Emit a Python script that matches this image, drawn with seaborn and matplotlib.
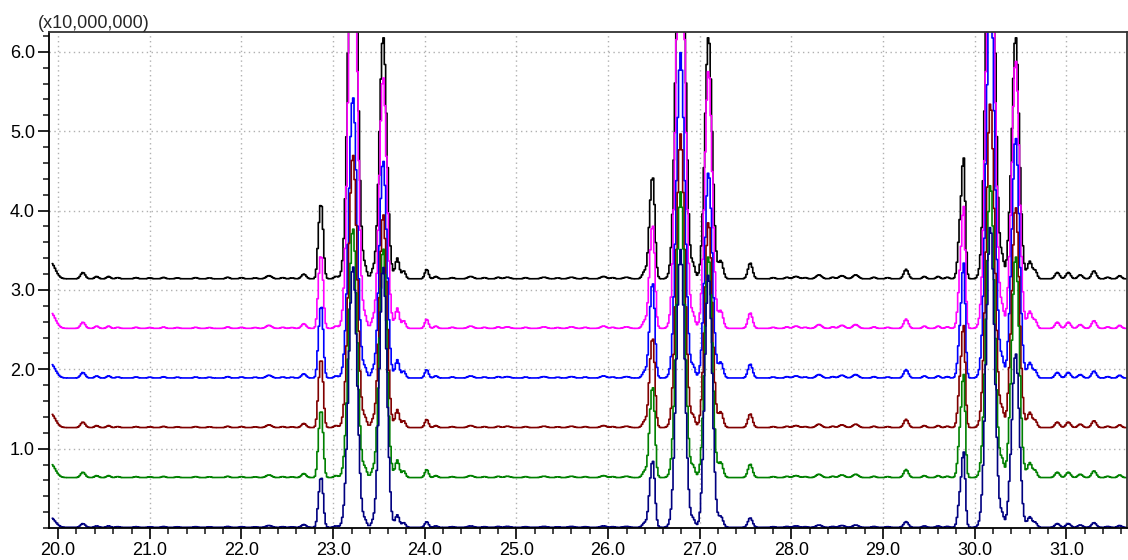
import numpy as np
import pandas as pd
import matplotlib
matplotlib.use("Agg")
import matplotlib.pyplot as plt
import seaborn as sns
from matplotlib.ticker import MultipleLocator, FixedLocator

# ---------------- data (intensities in units of 1e7) ----------------
series_names = ["s1", "s2", "s3", "s4", "s5", "s6"]
series_colors = ["#000000", "#ff00ff", "#0000ff", "#800000", "#008000", "#000080"]
baselines = [3.14, 2.515, 1.89, 1.265, 0.635, 0.008]
minor_scale = [1.0, 0.98, 0.88, 0.87, 0.85, 0.6]

# major peaks: retention time (min), width (min), heights per series
major_rt = [22.875, 23.215, 23.545, 26.49, 26.79, 27.095, 29.88, 30.17, 30.445]
major_sigma = [0.02, 0.045, 0.04, 0.022, 0.045, 0.04, 0.018, 0.045, 0.04]
major_s1 = [0.80, 6.0, 3.06, 1.15, 6.0, 3.06, 1.24, 6.0, 3.06]
major_s2 = [0.78, 6.0, 3.18, 1.17, 6.0, 3.26, 1.26, 6.0, 3.39]
major_s3 = [0.79, 3.55, 2.75, 1.08, 4.1, 2.6, 1.20, 5.0, 3.04]
major_s4 = [0.74, 3.45, 2.7, 1.01, 3.7, 2.6, 1.04, 4.1, 2.79]
major_s5 = [0.73, 3.15, 2.9, 1.03, 3.6, 2.8, 1.06, 3.7, 2.8]
major_s6 = [0.55, 3.3, 3.3, 0.76, 3.5, 3.2, 0.78, 3.8, 2.2]

# minor peaks (heights for the top trace, scaled per trace)
minor_rt = [19.92, 20.27, 20.42, 20.55, 20.65, 20.85, 21.0, 21.15, 21.3, 21.5,
            21.65, 21.85, 22.0, 22.15, 22.3, 22.45, 22.55, 22.68, 22.845, 23.03,
            23.35, 23.43, 23.70, 23.77, 24.02, 24.12, 24.3, 24.5, 24.65, 24.8,
            24.9, 25.1, 25.3, 25.45, 25.6, 25.75, 25.95, 26.05, 26.2, 26.40,
            26.455, 26.93, 27.23, 27.55, 27.8, 27.95, 28.05, 28.15, 28.3, 28.45,
            28.55, 28.7, 28.9, 29.05, 29.25, 29.45, 29.6, 29.7, 29.845, 30.3,
            30.37, 30.60, 30.66, 30.90, 31.02, 31.15, 31.30, 31.45, 31.58]
minor_height = [0.20, 0.08, 0.03, 0.03, 0.015, 0.015, 0.012, 0.018, 0.012, 0.015,
                0.012, 0.02, 0.015, 0.012, 0.04, 0.015, 0.012, 0.06, 0.45, 0.03,
                0.12, 0.08, 0.26, 0.10, 0.12, 0.03, 0.015, 0.03, 0.015, 0.02,
                0.02, 0.015, 0.02, 0.012, 0.02, 0.015, 0.03, 0.015, 0.02, 0.10,
                0.55, 0.15, 0.22, 0.20, 0.015, 0.02, 0.03, 0.015, 0.05, 0.02,
                0.04, 0.05, 0.02, 0.015, 0.12, 0.03, 0.03, 0.02, 0.75, 0.22,
                0.18, 0.22, 0.10, 0.08, 0.08, 0.05, 0.10, 0.02, 0.04]
minor_sigma = [0.05, 0.025, 0.02, 0.02, 0.02, 0.02, 0.02, 0.02, 0.02, 0.02,
               0.02, 0.02, 0.02, 0.02, 0.03, 0.02, 0.02, 0.025, 0.018, 0.02,
               0.02, 0.02, 0.022, 0.02, 0.02, 0.02, 0.02, 0.03, 0.02, 0.02,
               0.03, 0.02, 0.03, 0.02, 0.03, 0.02, 0.03, 0.02, 0.03, 0.025,
               0.02, 0.02, 0.025, 0.025, 0.02, 0.02, 0.03, 0.02, 0.03, 0.02,
               0.03, 0.03, 0.02, 0.02, 0.025, 0.02, 0.02, 0.02, 0.025, 0.02,
               0.02, 0.025, 0.02, 0.025, 0.025, 0.025, 0.025, 0.02, 0.02]

x_ticks = [20.0, 21.0, 22.0, 23.0, 24.0, 25.0, 26.0, 27.0, 28.0, 29.0, 30.0, 31.0]
y_ticks = [1.0, 2.0, 3.0, 4.0, 5.0, 6.0]

# ---------------- build traces from the peak tables ----------------
major_all = [major_s1, major_s2, major_s3, major_s4, major_s5, major_s6]
t = np.arange(19.935, 31.70, 0.015)
rows = []
for name, base, scale, mh in zip(series_names, baselines, minor_scale, major_all):
    y = np.full_like(t, base)
    for rt, h, s in zip(minor_rt, minor_height, minor_sigma):
        y += scale * h * np.exp(-0.5 * ((t - rt) / s) ** 2)
    for rt, h, s in zip(major_rt, mh, major_sigma):
        y += h * np.exp(-0.5 * ((t - rt) / s) ** 2)
    rows.append(pd.DataFrame({"time": t, "intensity": y, "trace": name}))
df = pd.concat(rows, ignore_index=True)

# ---------------- plot ----------------
sns.set_theme(style="ticks")
plt.rcParams["font.family"] = ["Liberation Sans", "DejaVu Sans"]

fig = plt.figure(figsize=(11.28, 5.60), dpi=100)
ax = fig.add_axes([49 / 1128, 1 - 528 / 560, (1127 - 49) / 1128, (528 - 32) / 560])

sns.lineplot(data=df, x="time", y="intensity", hue="trace", hue_order=series_names,
             palette=dict(zip(series_names, series_colors)), estimator=None,
             sort=False, legend=False, linewidth=1.2, drawstyle="steps-mid", ax=ax)

ax.set_xlim(19.90, 31.66)
ax.set_ylim(0.0, 6.25)
ax.xaxis.set_major_locator(FixedLocator(x_ticks))
ax.yaxis.set_major_locator(FixedLocator(y_ticks))
ax.set_xticklabels([f"{v:.1f}" for v in x_ticks])
ax.set_yticklabels([f"{v:.1f}" for v in y_ticks])
ax.xaxis.set_minor_locator(MultipleLocator(0.2))
ax.yaxis.set_minor_locator(MultipleLocator(0.2))
ax.tick_params(which="major", direction="out", length=8, width=1.2, labelsize=13,
               colors="black", pad=2)
ax.tick_params(which="minor", direction="out", length=4, width=1.2)
ax.set_xlabel("")
ax.set_ylabel("")
ax.grid(which="major", linestyle=(0, (1, 2.5)), color="#b0b0b0", linewidth=1.0)
ax.set_axisbelow(True)
for sp in ax.spines.values():
    sp.set_visible(True)
    sp.set_linewidth(1.3)
    sp.set_color("black")
ax.spines["top"].set_color("#333333")
ax.spines["right"].set_color("#333333")

fig.text(38 / 1128, 1 - 28 / 560, "(x10,000,000)", fontsize=13, ha="left", va="baseline")

fig.savefig("out.png", dpi=100)
